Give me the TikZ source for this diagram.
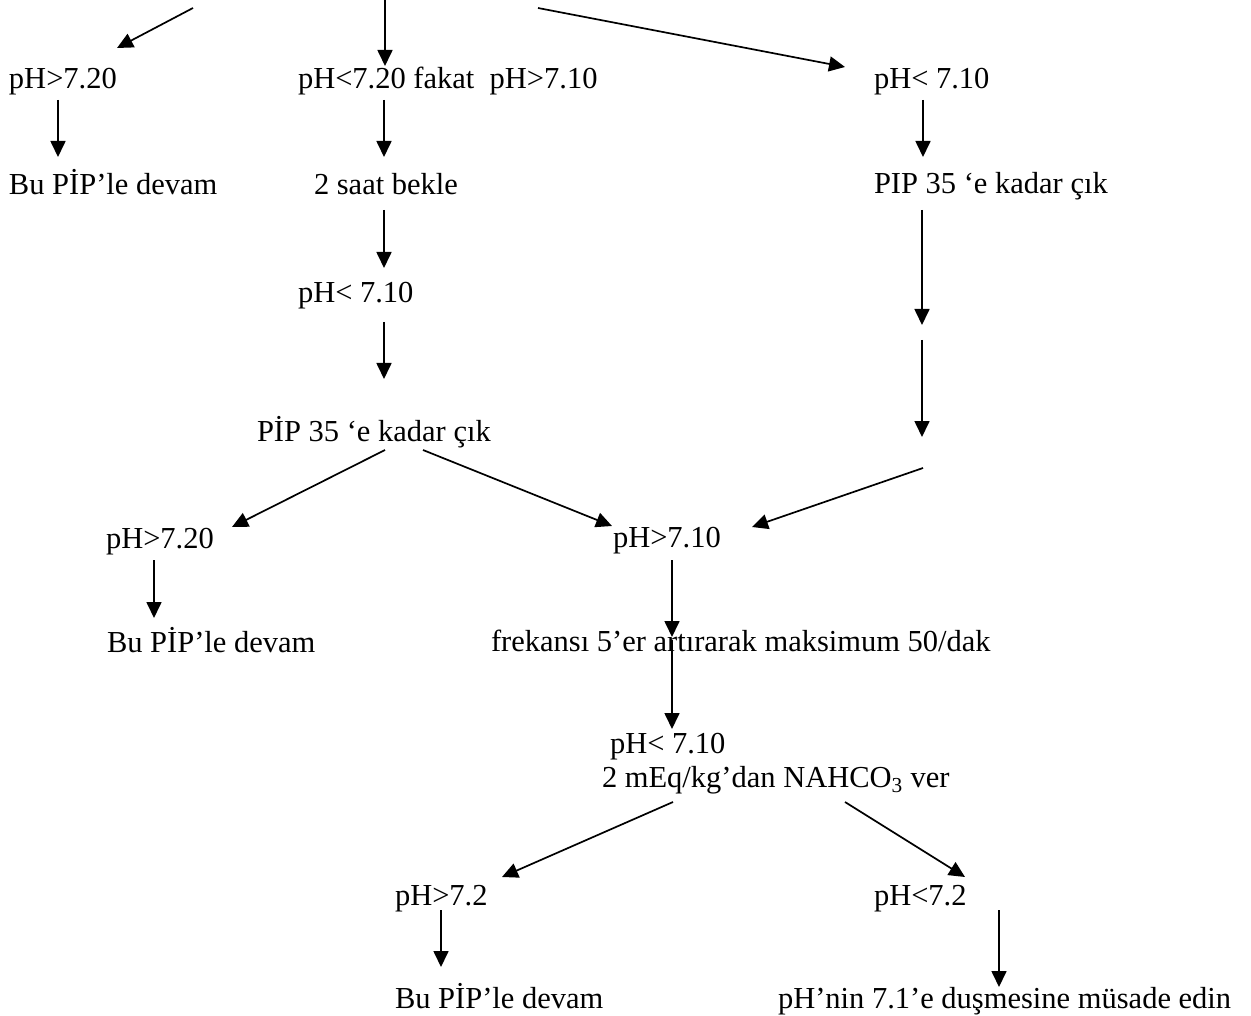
\documentclass[tikz,border=0pt]{standalone}
\usepackage{fontspec}
\setmainfont{Liberation Serif}
\usetikzlibrary{arrows.meta}
\begin{document}
\begin{tikzpicture}[x=1pt,y=-1pt,
  lbl/.style={anchor=base west, inner sep=0pt, outer sep=0pt, font=\fontsize{30.5}{36}\selectfont},
  arr/.style={line width=1.7pt, -{Triangle[length=16pt,width=15pt]}}]
\useasboundingbox[fill=white] (0,0) rectangle (1251,1016);
% texts
\node[lbl] (a1) at (9,89) {pH>7.20};
\node[lbl] (b1) at (298,89) {pH<7.20 fakat\ \ pH>7.10};
\node[lbl] (c1) at (874,89) {pH< 7.10};
\node[lbl] (a2) at (9,195) {Bu PİP’le devam};
\node[lbl] (b2) at (314,195) {2 saat bekle};
\node[lbl] (c2) at (874,194) {PIP 35 ‘e kadar çık};
\node[lbl] (b3) at (298,303) {pH< 7.10};
\node[lbl] (b4) at (257,442) {PİP 35 ‘e kadar çık};
\node[lbl] (a5) at (106,548) {pH>7.20};
\node[lbl] (m5) at (613,547) {pH>7.10};
\node[lbl] (a6) at (107,652) {Bu PİP’le devam};
\node[lbl] (m6) at (491,651) {frekansı 5’er artırarak maksimum 50/dak};
\node[lbl] (m7) at (610,753) {pH< 7.10};
\node[lbl] (m7b) at (602,787) {2 mEq/kg’dan NAHCO\textsubscript{3} ver};
\node[lbl] (l8) at (395,905) {pH>7.2};
\node[lbl] (r8) at (874,905) {pH<7.2};
\node[lbl] (l9) at (395,1008) {Bu PİP’le devam};
\node[lbl] (r9) at (778,1008) {pH’nin 7.1’e duşmesine müsade edin};
% connector end points
\coordinate (s1) at (193,8);   \coordinate (e1) at (117,48);
\coordinate (s2) at (385,0);   \coordinate (e2) at (385,66);
\coordinate (s3) at (538,8);   \coordinate (e3) at (845,67);
\coordinate (s4) at (58,100);  \coordinate (e4) at (58,157);
\coordinate (s5) at (384,100); \coordinate (e5) at (384,157);
\coordinate (s6) at (923,100); \coordinate (e6) at (923,157);
\coordinate (s7) at (384,210); \coordinate (e7) at (384,268);
\coordinate (s8) at (384,322); \coordinate (e8) at (384,379);
\coordinate (s9) at (922,210); \coordinate (e9) at (922,325);
\coordinate (s10) at (922,340); \coordinate (e10) at (922,437);
\coordinate (s11) at (385,450); \coordinate (e11) at (232,527);
\coordinate (s12) at (423,450); \coordinate (e12) at (612,526);
\coordinate (s13) at (923,468); \coordinate (e13) at (752,527);
\coordinate (s14) at (154,560); \coordinate (e14) at (154,618);
\coordinate (s15) at (672,560); \coordinate (e15) at (672,637);
\coordinate (s16) at (672,640); \coordinate (e16) at (672,729);
\coordinate (s17) at (673,802); \coordinate (e17) at (502,877);
\coordinate (s18) at (845,802); \coordinate (e18) at (965,877);
\coordinate (s19) at (441,910); \coordinate (e19) at (441,967);
\coordinate (s20) at (999,910); \coordinate (e20) at (999,987);
% connectors
\foreach \i in {1,...,20}{\draw[arr] (s\i) -- (e\i);}
\end{tikzpicture}
\end{document}
